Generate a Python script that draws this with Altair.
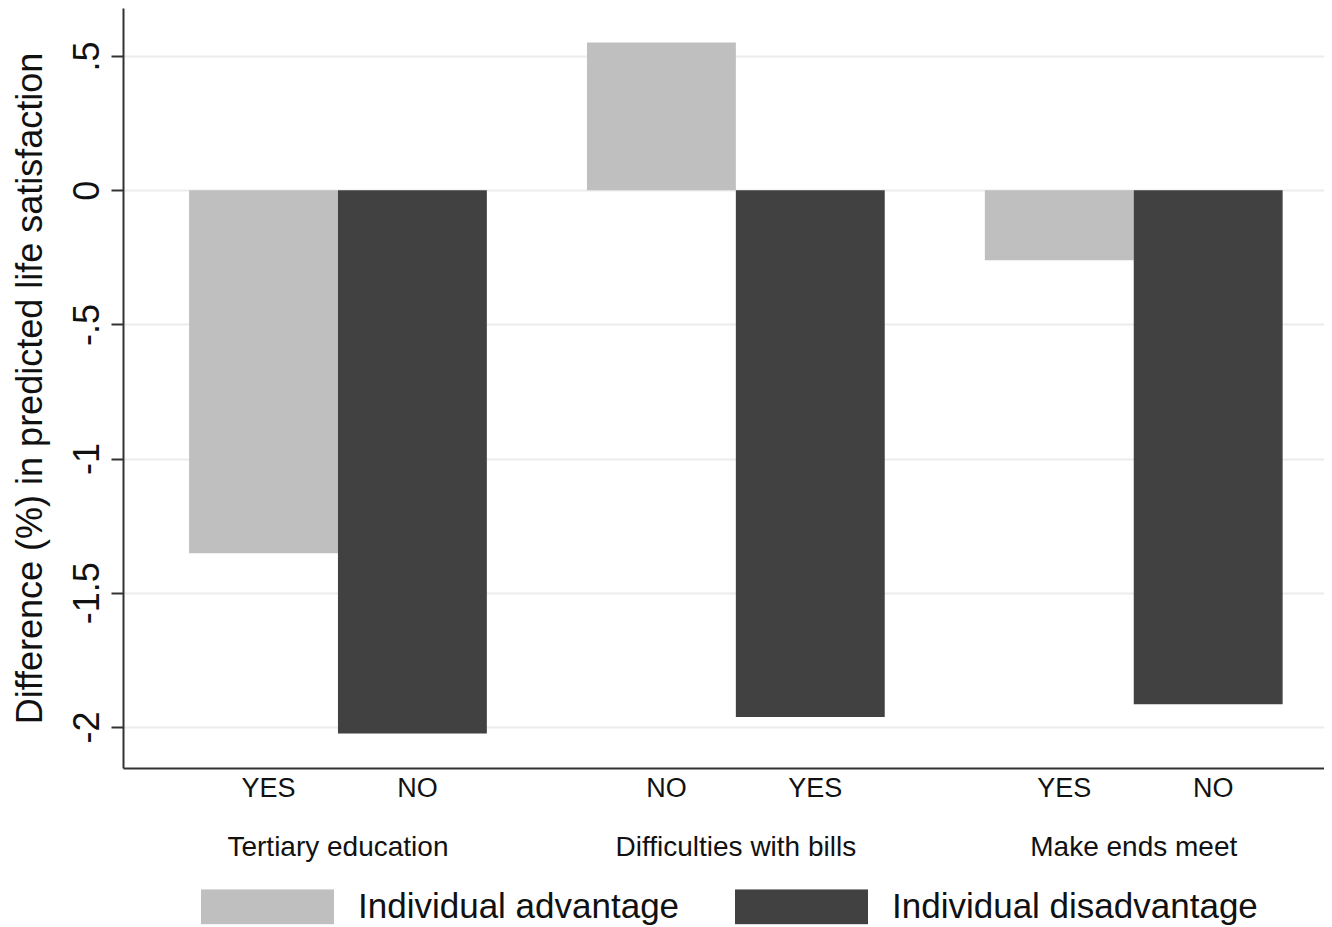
import altair as alt
import pandas as pd

groups = ["Tertiary education", "Difficulties with bills", "Make ends meet"]
types = ["Individual advantage", "Individual disadvantage"]
adv_values = [-1.353, 0.550, -0.261]
dis_values = [-2.024, -1.963, -1.915]
adv_answers = ["YES", "NO", "YES"]
dis_answers = ["NO", "YES", "NO"]
y_ticks = [-2, -1.5, -1, -0.5, 0, 0.5]
colors = ["#bfbfbf", "#414141"]

rows = []
for g, v, a in zip(groups, adv_values, adv_answers):
    rows.append({"group": g, "type": types[0], "value": v, "answer": a})
for g, v, a in zip(groups, dis_values, dis_answers):
    rows.append({"group": g, "type": types[1], "value": v, "answer": a})
df = pd.DataFrame(rows)

FONT = "Liberation Sans"

x_enc = alt.X(
    "group:N",
    sort=groups,
    scale=alt.Scale(paddingInner=0.2516, paddingOuter=0.135, align=0.615),
    axis=alt.Axis(
        title=None,
        ticks=False,
        tickSize=0,
        labelPadding=87,
        labelBaseline="alphabetic",
        labelFontSize=28,
        labelFont=FONT,
        labelColor="#111111",
        labelAngle=0,
        labelLimit=0,
        domainColor="#333333",
        domainWidth=2,
        grid=False,
    ),
)
xoff = alt.XOffset("type:N", sort=types, scale=alt.Scale(paddingInner=0, paddingOuter=0))

bars = alt.Chart(df).mark_bar().encode(
    x=x_enc,
    xOffset=xoff,
    y=alt.Y(
        "value:Q",
        scale=alt.Scale(domain=[-2.153, 0.679], nice=False, zero=False),
        axis=alt.Axis(
            title="Difference (%) in predicted life satisfaction",
            titleFont=FONT,
            titleFontSize=36,
            titleFontWeight="normal",
            titleColor="#111111",
            titleX=-93,
            titleBaseline="middle",
            values=y_ticks,
            labelExpr="datum.value == 0.5 ? '.5' : datum.value == -0.5 ? '-.5' : toString(datum.value)",
            labelAngle=-90,
            labelAlign="center",
            labelBaseline="alphabetic",
            labelPadding=13,
            labelFont=FONT,
            labelFontSize=36,
            labelColor="#111111",
            tickSize=12,
            tickColor="#333333",
            tickWidth=2,
            domainColor="#333333",
            domainWidth=2,
            grid=True,
            gridColor="#ececec",
            gridWidth=2,
        ),
    ),
    color=alt.Color(
        "type:N",
        sort=types,
        scale=alt.Scale(domain=types, range=colors),
        legend=alt.Legend(
            title=None,
            orient="none",
            legendX=78,
            legendY=881,
            direction="horizontal",
            columns=2,
            columnPadding=55,
            padding=0,
            symbolType="M-1,-0.2632L1,-0.2632L1,0.2632L-1,0.2632Z",
            symbolSize=133 * 133,
            symbolStrokeWidth=0,
            symbolOpacity=1,
            clipHeight=35,
            labelOffset=24,
            labelFont=FONT,
            labelFontSize=35,
            labelColor="#111111",
            labelLimit=500,
        ),
    ),
)

answer_text = alt.Chart(df).mark_text(
    font=FONT, fontSize=27, baseline="alphabetic", align="center", color="#111111", dx=5
).encode(
    x=alt.X("group:N", sort=groups),
    xOffset=alt.XOffset("type:N", sort=types),
    y=alt.value(789),
    text="answer:N",
)

chart = (
    alt.layer(bars, answer_text)
    .properties(
        width=1201,
        height=760,
        autosize=alt.AutoSizeParams(type="none"),
        padding={"left": 115, "top": 0, "right": 0, "bottom": 157},
    )
    .configure(background="white", view=alt.ViewConfig(strokeWidth=0, stroke=None))
)

chart.save("out.html", embed_options={"renderer": "svg", "actions": False})
